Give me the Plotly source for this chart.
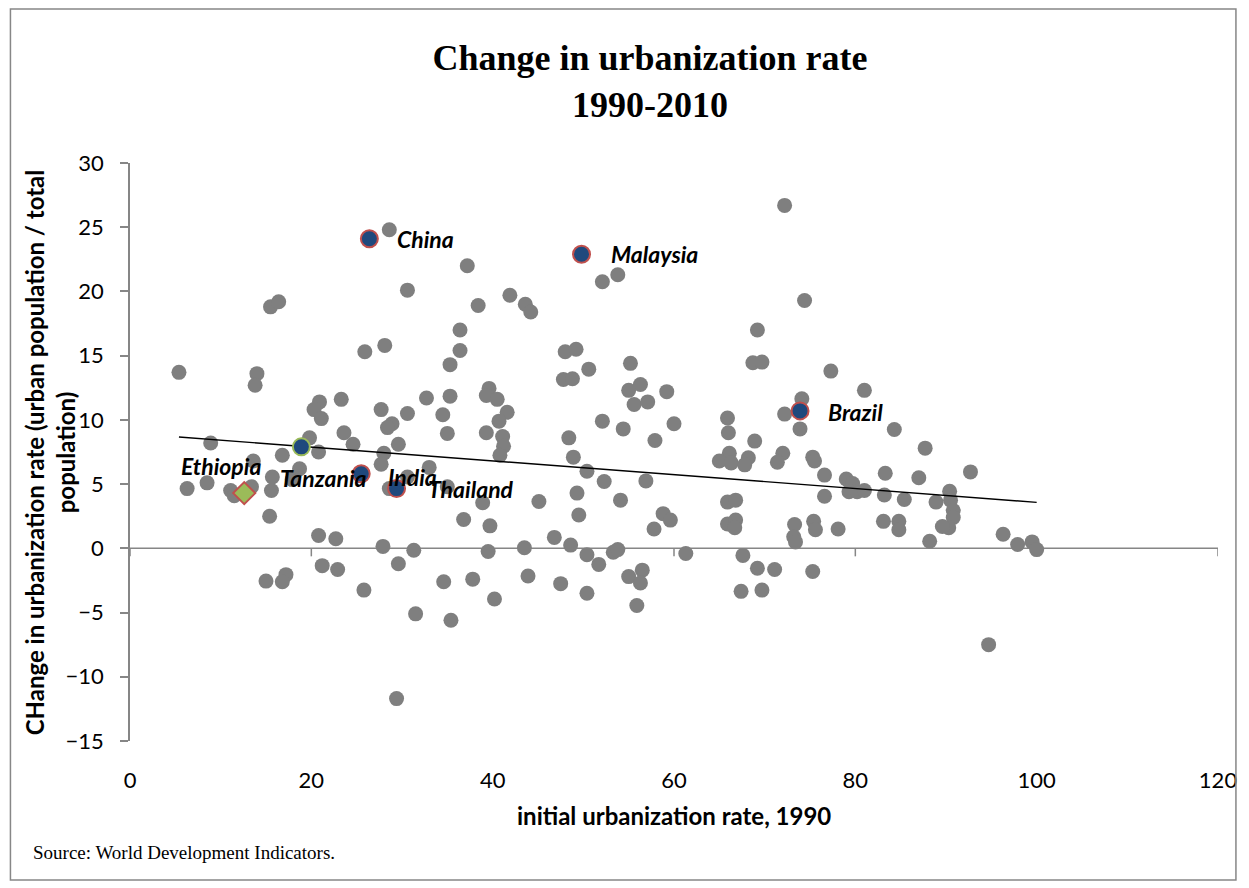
import plotly.graph_objects as go

# ---------------- data ----------------
grey_x = [28.6, 30.6, 15.5, 16.4, 28.1, 25.9, 5.4, 14.0, 13.8, 23.3, 20.9, 20.3, 21.1, 27.7, 30.6,
          28.9, 28.4, 23.6, 19.8, 8.9, 24.6, 29.6, 28.0, 20.8, 16.8, 13.6, 18.7, 15.7, 17.9, 27.7,
          30.6, 28.6, 6.3, 8.5, 11.1, 11.5, 13.4, 15.6, 15.4, 20.8, 22.7, 27.9, 31.3, 29.6, 21.2,
          22.9, 15.0, 17.2, 16.8, 25.8, 31.5, 29.4,
          37.2, 53.8, 52.1, 41.9, 38.4, 43.6, 44.2, 36.4, 36.4, 35.3, 48.0, 49.2, 50.6, 55.2, 47.8,
          48.8, 56.3, 55.0, 59.2, 55.6, 57.1, 32.7, 35.3, 39.6, 39.3, 40.5, 34.5, 41.6, 40.7, 35.0,
          39.3, 41.1, 41.2, 52.1, 54.4, 60.0, 48.4, 57.9, 40.8, 48.9, 50.4, 52.3, 56.9, 33.0, 35.0,
          38.9, 45.1, 49.3, 54.1, 49.5, 36.8, 39.7, 46.8, 58.8, 59.6, 57.8, 48.6, 39.5, 43.5, 50.4,
          53.3, 53.8, 51.7, 61.3, 34.6, 37.8, 40.2, 43.9, 47.5, 50.4, 55.0, 56.5, 56.3, 55.9, 35.4,
          72.2, 74.4, 69.2, 68.7, 69.7, 77.3, 81.0, 74.1, 72.2, 73.9, 65.9, 66.0, 84.3, 68.9, 87.7,
          66.1, 65.0, 66.3, 68.2, 67.8, 72.0, 71.4, 75.3, 75.5, 76.6, 79.0, 79.7, 79.3, 80.2, 81.0,
          83.3, 87.0, 92.7, 83.2, 85.4, 88.9, 90.4, 90.5, 90.8, 90.8, 90.3, 89.6, 76.6, 65.9, 66.8,
          65.9, 66.8, 66.7, 73.3, 73.2, 73.4, 75.4, 75.6, 78.1, 83.1, 84.8, 84.8, 88.2, 67.6, 69.2,
          71.1, 75.3, 67.4, 69.7, 96.3, 97.9, 99.5, 100.0, 94.7]
grey_y = [24.8, 20.1, 18.8, 19.2, 15.8, 15.3, 13.7, 13.6, 12.7, 11.6, 11.4, 10.8, 10.1, 10.8, 10.5,
          9.7, 9.4, 9.0, 8.6, 8.2, 8.1, 8.1, 7.4, 7.5, 7.25, 6.8, 6.2, 5.55, 5.35, 6.55,
          5.55, 4.65, 4.65, 5.1, 4.5, 4.1, 4.8, 4.5, 2.5, 1.0, 0.75, 0.15, -0.15, -1.2, -1.35,
          -1.65, -2.55, -2.05, -2.6, -3.25, -5.1, -11.7,
          22.0, 21.3, 20.75, 19.7, 18.9, 19.0, 18.4, 17.0, 15.4, 14.3, 15.3, 15.5, 13.95, 14.4, 13.15,
          13.2, 12.75, 12.3, 12.2, 11.2, 11.4, 11.7, 11.85, 12.45, 11.9, 11.6, 10.4, 10.6, 9.9, 8.95,
          9.0, 8.7, 7.95, 9.9, 9.3, 9.7, 8.6, 8.4, 7.25, 7.1, 6.0, 5.2, 5.25, 6.3, 4.8,
          3.55, 3.65, 4.3, 3.75, 2.6, 2.25, 1.75, 0.85, 2.7, 2.2, 1.5, 0.25, -0.25, 0.05, -0.5,
          -0.3, -0.1, -1.25, -0.4, -2.6, -2.4, -3.95, -2.15, -2.75, -3.5, -2.2, -1.7, -2.7, -4.45, -5.6,
          26.7, 19.3, 17.0, 14.45, 14.5, 13.8, 12.3, 11.65, 10.45, 9.3, 10.15, 9.0, 9.25, 8.35, 7.8,
          7.4, 6.8, 6.65, 7.05, 6.5, 7.4, 6.7, 7.1, 6.8, 5.7, 5.4, 5.05, 4.4, 4.4, 4.5,
          5.85, 5.5, 5.95, 4.15, 3.8, 3.6, 4.45, 3.75, 2.95, 2.4, 1.6, 1.7, 4.05, 3.6, 3.75,
          1.9, 2.2, 1.6, 1.85, 0.9, 0.5, 2.1, 1.45, 1.5, 2.1, 2.1, 1.45, 0.55, -0.55, -1.55,
          -1.65, -1.8, -3.35, -3.25, 1.1, 0.3, 0.5, -0.1, -7.5]

# highlighted countries
hl_names = ["China", "Malaysia", "Brazil", "India", "Thailand", "Tanzania"]
hl_x = [26.4, 49.8, 73.9, 25.5, 29.4, 18.9]
hl_y = [24.1, 22.9, 10.7, 5.8, 4.65, 7.9]

eth_name = "Ethiopia"
eth_x = [12.6]
eth_y = [4.3]

# trend line end points
trend_x = [5.4, 100.0]
trend_y = [8.67, 3.58]

x_ticks = [0, 20, 40, 60, 80, 100, 120]
y_ticks = [-15, -10, -5, 0, 5, 10, 15, 20, 25, 30]

title_text = "Change in urbanization rate<br>1990-2010"
x_title = "initial urbanization rate, 1990"
y_title = "CHange in urbanization rate (urban population / total<br>population)"
source_text = "Source: World Development Indicators."

# ---------------- style ----------------
GREY = "#7F7F7F"
NAVY = "#1F497D"
RED = "#C0504D"
GREEN = "#9BBB59"
AXIS = "#868686"
SANS = "Lato, Open Sans, sans-serif"
SERIF = "Liberation Serif, Times New Roman, serif"

W, H = 1249, 888
ML, MR, MT, MB = 130, 27, 163, 147
PW, PH = W - ML - MR, H - MT - MB


def px_to_paper_x(px):
    return (px - ML) / PW


def px_to_paper_y(py):
    return (H - MB - py) / PH


fig = go.Figure()

fig.add_trace(go.Scatter(
    x=grey_x, y=grey_y, mode="markers",
    marker=dict(size=15, color=GREY, line=dict(width=0)),
    hoverinfo="x+y", showlegend=False))

fig.add_trace(go.Scatter(
    x=trend_x, y=trend_y, mode="lines",
    line=dict(color="black", width=1.4), hoverinfo="skip", showlegend=False))

outline = [RED, RED, RED, RED, RED, GREEN]
fig.add_trace(go.Scatter(
    x=hl_x, y=hl_y, mode="markers", text=hl_names,
    marker=dict(size=17, color=NAVY, line=dict(width=2, color=outline)),
    hoverinfo="text+x+y", showlegend=False))

fig.add_trace(go.Scatter(
    x=eth_x, y=eth_y, mode="markers", text=[eth_name],
    marker=dict(size=17, symbol="diamond", color=GREEN, line=dict(width=2, color=RED)),
    hoverinfo="text+x+y", showlegend=False))

# labels (pixel offsets from the point)
label_offsets = {
    "China": (26, 0), "Malaysia": (27, 0), "Brazil": (26, -1),
    "India": (25, -3), "Thailand": (29, 0), "Tanzania": (-23, -31),
}
LABEL_FONT = dict(family=SANS, size=23, color="black", weight="bold", style="italic")
annotations = []
for n, x, y in zip(hl_names, hl_x, hl_y):
    dx, dy = label_offsets[n]
    annotations.append(dict(x=x, y=y, xref="x", yref="y", text=n, showarrow=False,
                            xanchor="left", yanchor="middle", xshift=dx, yshift=dy,
                            font=LABEL_FONT))
annotations.append(dict(x=eth_x[0], y=eth_y[0], xref="x", yref="y", text=eth_name,
                        showarrow=False, xanchor="left", yanchor="middle",
                        xshift=-65, yshift=27, font=LABEL_FONT))

# axis titles and source
annotations.append(dict(x=0.5, y=px_to_paper_y(816), xref="paper", yref="paper",
                        text=x_title, showarrow=False, xanchor="center", yanchor="middle",
                        font=dict(family=SANS, size=24, color="black", weight="bold")))
annotations.append(dict(x=px_to_paper_x(50), y=0.5, xref="paper", yref="paper",
                        text=y_title, showarrow=False, textangle=-90,
                        xanchor="center", yanchor="middle", align="center",
                        font=dict(family=SANS, size=24, color="black", weight="bold")))
annotations.append(dict(x=px_to_paper_x(31), y=px_to_paper_y(852), xref="paper", yref="paper",
                        text=source_text, showarrow=False, xanchor="left", yanchor="middle",
                        font=dict(family=SERIF, size=19, color="black")))

shapes = []
# x-axis line at y=0
shapes.append(dict(type="line", xref="x", yref="y", x0=x_ticks[0], x1=x_ticks[-1],
                   y0=0, y1=0, line=dict(color=AXIS, width=1.5), layer="below"))
for t in x_ticks:
    shapes.append(dict(type="line", xref="x", yref="y", x0=t, x1=t,
                       ysizemode="pixel", yanchor=0, y0=0, y1=-8,
                       line=dict(color=AXIS, width=1.5), layer="below"))
# outer border
shapes.append(dict(type="rect", xref="paper", yref="paper",
                   x0=px_to_paper_x(10), x1=px_to_paper_x(1240),
                   y0=px_to_paper_y(880), y1=px_to_paper_y(9),
                   line=dict(color="#878787", width=1.5), fillcolor="rgba(0,0,0,0)"))

fig.update_layout(
    width=W, height=H,
    margin=dict(l=ML, r=MR, t=MT, b=MB),
    paper_bgcolor="white", plot_bgcolor="white",
    title=dict(text=title_text, x=650 / W, xanchor="center", y=1 - 70 / H,
               yanchor="middle", yref="container",
               font=dict(family=SERIF, size=36, color="black", weight="bold")),
    xaxis=dict(range=[x_ticks[0], x_ticks[-1]], tickvals=x_ticks, showgrid=False,
               zeroline=False, showline=False, ticks="", ticklabelstandoff=24,
               tickfont=dict(family=SANS, size=22, color="black")),
    yaxis=dict(range=[y_ticks[0], y_ticks[-1]], tickvals=y_ticks, showgrid=False,
               zeroline=False, showline=True, linecolor=AXIS, linewidth=1.5,
               ticks="outside", ticklen=8, tickcolor=AXIS, tickwidth=1.5,
               ticklabelstandoff=12,
               tickfont=dict(family=SANS, size=22, color="black")),
    annotations=annotations, shapes=shapes, showlegend=False,
)

fig.write_html("out.html", config={"displayModeBar": False},
               post_script="document.body.style.margin='0';document.body.style.overflow='hidden';")
